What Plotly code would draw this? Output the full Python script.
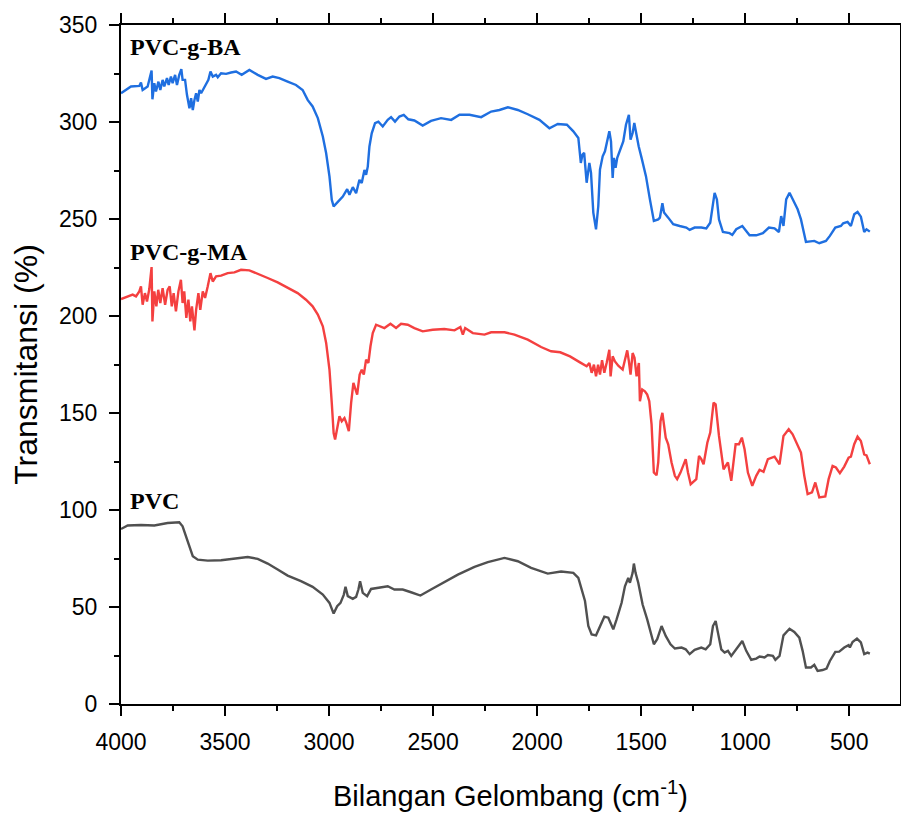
import plotly.graph_objects as go

# FTIR spectra: wavenumber (cm-1) and transmittance (%) for each sample

wn_ba = [4000, 3952, 3912, 3904, 3896, 3872, 3853, 3849, 3840, 3832, 3820, 3811, 3800, 3792,
         3779, 3771, 3760, 3752, 3740, 3731, 3720, 3710, 3704, 3692, 3683, 3671, 3663, 3655,
         3647, 3639, 3631, 3623, 3615, 3599, 3580, 3570, 3559, 3543, 3535, 3519, 3495, 3471,
         3447, 3420, 3383, 3343, 3303, 3271, 3239, 3199, 3159, 3127, 3103, 3079, 3054, 3030,
         3014, 2998, 2987, 2978, 2958, 2934, 2913, 2902, 2886, 2870, 2854, 2843, 2830, 2822,
         2814, 2806, 2795, 2779, 2763, 2742, 2718, 2702, 2683, 2662, 2641, 2619, 2590, 2550,
         2510, 2462, 2413, 2373, 2325, 2269, 2221, 2181, 2141, 2093, 2045, 1989, 1941, 1901,
         1857, 1826, 1802, 1790, 1782, 1774, 1762, 1749, 1741, 1730, 1717, 1706, 1698, 1685,
         1674, 1653, 1645, 1637, 1631, 1623, 1615, 1602, 1586, 1573, 1559, 1551, 1541, 1533,
         1525, 1512, 1498, 1477, 1458, 1439, 1418, 1410, 1398, 1390, 1370, 1346, 1315, 1283,
         1267, 1243, 1211, 1187, 1168, 1158, 1147, 1136, 1126, 1107, 1075, 1062, 1043, 1014,
         1003, 979, 947, 915, 886, 859, 838, 827, 816, 803, 787, 772, 748, 732, 708, 668,
         644, 612, 593, 567, 540, 529, 508, 492, 476, 460, 444, 428, 417, 401]
t_ba = [314.8, 318.3, 318.6, 320.3, 316.5, 318.3, 326.5, 311.7, 320.0, 315.7, 320.8, 316.5, 321.7, 318.3,
        322.6, 319.1, 323.4, 320.0, 324.3, 319.1, 324.3, 327.2, 321.7, 321.7, 314.0, 307.1, 312.3, 306.2,
        311.4, 314.8, 310.5, 316.5, 314.8, 318.3, 321.7, 326.0, 323.4, 324.3, 323.1, 325.1, 324.8, 325.5,
        326.0, 324.3, 326.8, 324.3, 322.2, 323.4, 322.6, 320.8, 319.1, 316.5, 311.4, 308.0, 302.0, 292.5,
        283.9, 271.9, 259.9, 256.5, 259.0, 261.6, 265.4, 262.5, 266.4, 263.3, 270.2, 268.5, 275.3, 272.8,
        277.0, 287.4, 294.2, 299.4, 300.2, 297.7, 301.1, 302.5, 300.2, 302.8, 303.7, 301.4, 300.8, 298.2,
        300.6, 302.0, 301.1, 303.7, 303.7, 302.5, 305.4, 306.2, 307.6, 306.2, 304.0, 301.1, 296.8, 299.0,
        298.6, 295.2, 291.8, 278.9, 283.2, 284.1, 268.7, 278.9, 273.8, 253.3, 244.7, 256.7, 275.5, 282.3,
        284.9, 295.2, 290.0, 271.2, 281.5, 276.4, 281.5, 285.8, 290.0, 298.6, 303.7, 290.9, 294.3, 299.5,
        294.3, 287.5, 281.5, 272.1, 260.1, 249.0, 249.8, 250.7, 258.1, 253.3, 250.7, 247.3, 246.4, 245.6,
        244.4, 245.6, 245.6, 245.1, 248.1, 256.7, 263.5, 260.1, 249.8, 243.3, 242.7, 241.8, 244.7, 246.4,
        244.7, 241.6, 241.6, 242.7, 245.6, 245.2, 243.3, 251.5, 246.4, 260.1, 263.5, 260.1, 255.0, 249.8, 238.2, 238.7,
        237.5, 238.7, 241.3, 245.6, 246.4, 247.8, 248.5, 246.4, 252.4, 253.6, 251.2, 243.3, 244.7, 243.5]

wn_ma = [4000, 3968, 3944, 3928, 3912, 3904, 3896, 3885, 3875, 3864, 3853, 3849, 3840, 3830,
         3821, 3811, 3800, 3788, 3776, 3766, 3756, 3747, 3736, 3724, 3712, 3704, 3696, 3686,
         3676, 3667, 3659, 3647, 3639, 3628, 3619, 3607, 3596, 3583, 3570, 3559, 3543, 3519,
         3487, 3455, 3423, 3383, 3343, 3295, 3247, 3199, 3151, 3111, 3079, 3054, 3030, 3014,
         2998, 2987, 2978, 2971, 2961, 2950, 2939, 2926, 2917, 2905, 2894, 2883, 2865, 2853,
         2843, 2833, 2822, 2811, 2801, 2790, 2774, 2750, 2734, 2705, 2678, 2654, 2622, 2590,
         2550, 2502, 2446, 2397, 2369, 2357, 2346, 2309, 2253, 2221, 2157, 2109, 2045, 1981,
         1933, 1889, 1842, 1794, 1762, 1749, 1738, 1727, 1717, 1707, 1698, 1688, 1677, 1666,
         1653, 1647, 1637, 1626, 1610, 1589, 1576, 1567, 1559, 1551, 1541, 1532, 1522, 1511,
         1506, 1495, 1482, 1471, 1461, 1455, 1450, 1439, 1426, 1418, 1407, 1398, 1382, 1370,
         1354, 1338, 1327, 1311, 1286, 1275, 1262, 1235, 1222, 1211, 1200, 1182, 1168, 1152,
         1142, 1126, 1104, 1083, 1067, 1046, 1030, 1016, 1003, 987, 966, 947, 931, 912, 891,
         859, 835, 816, 791, 772, 752, 732, 716, 700, 679, 663, 644, 615, 599, 580, 564, 545,
         524, 503, 492, 476, 460, 444, 428, 417, 401]
t_ma = [208.7, 210.1, 211.0, 210.1, 212.7, 215.3, 205.8, 211.8, 207.5, 213.9, 225.2, 197.2, 212.7, 205.0,
        213.5, 206.7, 214.4, 205.8, 213.5, 215.3, 205.0, 211.8, 202.4, 212.7, 218.7, 206.7, 212.7, 199.0,
        208.4, 197.2, 205.0, 192.6, 203.2, 211.8, 203.2, 212.7, 209.3, 215.3, 222.1, 217.8, 220.4, 220.8,
        222.1, 222.5, 223.8, 223.5, 221.8, 219.6, 217.3, 214.4, 211.8, 208.4, 205.0, 200.7, 194.7, 186.1,
        172.3, 155.2, 139.7, 136.3, 143.2, 148.3, 145.7, 147.4, 144.9, 140.6, 155.2, 165.5, 159.5, 169.8,
        172.3, 169.8, 177.5, 175.8, 184.4, 191.2, 195.5, 194.7, 193.8, 196.0, 193.8, 196.0, 195.5, 193.8,
        192.1, 192.9, 193.3, 192.6, 194.3, 190.4, 193.8, 191.2, 190.4, 191.6, 191.6, 190.4, 187.8, 184.0,
        181.8, 181.3, 179.2, 176.1, 174.1, 175.8, 170.7, 174.9, 168.9, 174.9, 169.8, 177.2, 170.7, 175.8,
        182.6, 168.9, 179.2, 176.6, 174.4, 172.4, 179.2, 182.3, 176.6, 169.8, 180.9, 178.4, 168.9, 175.8,
        156.1, 162.1, 161.2, 159.5, 156.1, 146.7, 144.1, 119.3, 117.9, 124.5, 145.8, 150.1, 137.3, 133.9,
        124.5, 117.6, 115.9, 119.3, 126.2, 119.3, 113.3, 115.9, 127.9, 126.2, 123.6, 134.7, 139.9, 155.3,
        154.4, 138.2, 121.0, 124.5, 115.0, 133.9, 133.9, 137.3, 131.3, 119.3, 112.5, 117.6, 120.7, 119.7, 126.2,
        127.5, 123.6, 138.2, 141.6, 139.0, 134.4, 129.6, 117.6, 108.2, 109.1, 114.2, 106.5, 107.0, 115.9, 122.7, 121.9, 119.0,
        122.4, 127.0, 127.5, 133.9, 137.8, 135.6, 128.7, 128.2, 123.6]

wn_pvc = [4000, 3968, 3904, 3840, 3776, 3720, 3704, 3688, 3671, 3655, 3631, 3583, 3519, 3455,
          3391, 3343, 3295, 3247, 3199, 3135, 3079, 3030, 2998, 2978, 2961, 2945, 2929, 2921,
          2910, 2886, 2870, 2859, 2851, 2838, 2817, 2798, 2766, 2718, 2686, 2646, 2606, 2561,
          2510, 2446, 2381, 2301, 2237, 2157, 2093, 2029, 1949, 1885, 1826, 1802, 1786, 1770,
          1754, 1738, 1717, 1698, 1677, 1658, 1634, 1618, 1594, 1578, 1562, 1554, 1541, 1535,
          1527, 1514, 1493, 1471, 1455, 1439, 1423, 1402, 1382, 1359, 1338, 1306, 1286, 1267,
          1243, 1211, 1190, 1168, 1155, 1142, 1131, 1115, 1099, 1083, 1067, 1043, 1014, 995,
          971, 947, 931, 907, 891, 867, 855, 835, 816, 787, 764, 740, 724, 708, 684, 668, 652,
          628, 609, 593, 567, 548, 524, 503, 497, 484, 463, 444, 428, 412, 401]
t_pvc = [90.2, 92.0, 92.3, 92.0, 93.3, 93.7, 91.6, 86.5, 80.5, 76.2, 74.4, 73.9, 74.1, 74.8,
         75.8, 74.8, 72.4, 69.3, 66.2, 63.3, 60.4, 56.4, 52.1, 46.6, 50.4, 52.1, 56.4, 60.4,
         55.6, 54.2, 55.2, 59.0, 63.3, 57.3, 55.6, 59.3, 59.9, 60.7, 59.0, 59.0, 57.6, 55.9,
         59.0, 62.8, 66.7, 70.7, 73.1, 75.3, 73.6, 70.2, 67.2, 68.3, 67.6, 65.0, 59.0, 53.1,
         40.2, 35.9, 35.4, 40.2, 45.0, 44.5, 38.5, 43.6, 52.2, 60.7, 65.0, 62.5, 67.6, 72.4,
         67.6, 62.5, 51.3, 43.6, 37.6, 30.8, 33.4, 40.2, 35.1, 30.8, 28.6, 29.1, 28.2, 25.7,
         27.9, 29.1, 28.2, 30.8, 40.2, 42.8, 36.8, 28.2, 26.5, 27.4, 24.8, 28.2, 32.5, 27.4,
         22.8, 23.4, 24.5, 24.0, 25.2, 24.8, 22.8, 24.8, 35.4, 38.8, 37.1, 34.2, 27.4, 18.8, 18.8, 20.2, 17.1,
         17.5, 18.3, 22.2, 26.9, 27.0, 29.1, 30.3, 29.1, 32.0, 33.7, 31.7, 25.7, 26.5, 26.0]

series = [
    ("PVC-g-BA", wn_ba, t_ba, "rgb(31,111,224)", 338.5),
    ("PVC-g-MA", wn_ma, t_ma, "rgb(244,64,64)", 233.0),
    ("PVC", wn_pvc, t_pvc, "rgb(80,80,80)", 104.5),
]

fig = go.Figure()
for name, x, y, color, label_y in series:
    fig.add_trace(go.Scatter(x=x, y=y, mode="lines", name=name,
                             line=dict(color=color, width=2.4), showlegend=False))
    fig.add_annotation(x=3966, y=label_y, xref="x", yref="y", text="<b>%s</b>" % name,
                       showarrow=False, xanchor="left", yanchor="middle",
                       font=dict(family="Liberation Serif", size=24, color="black"))

axis_common = dict(
    showline=True, linecolor="black", linewidth=2,
    ticks="outside", ticklen=10, tickwidth=2, tickcolor="black",
    showgrid=False, zeroline=False, automargin=False,
    tickfont=dict(family="Liberation Sans", size=23, color="black"),
)

fig.update_xaxes(
    range=[4000, 256], tickvals=[4000, 3500, 3000, 2500, 2000, 1500, 1000, 500],
    mirror="ticks",
    minor=dict(ticks="outside", ticklen=5, tickwidth=2, tickcolor="black", dtick=250, tick0=0),
    ticklabelstandoff=6,
    title=dict(text="Bilangan Gelombang (cm<sup>-1</sup>)", standoff=32,
               font=dict(family="Liberation Sans", size=29, color="black")),
    **axis_common,
)
fig.update_yaxes(
    range=[0, 350], tickvals=[0, 50, 100, 150, 200, 250, 300, 350],
    mirror=True,
    minor=dict(ticks="outside", ticklen=5, tickwidth=2, tickcolor="black", dtick=25, tick0=0),
    ticklabelstandoff=7,
    title=dict(text="Transmitansi (%)", standoff=12,
               font=dict(family="Liberation Sans", size=32, color="black")),
    **axis_common,
)

fig.update_layout(
    width=901, height=815,
    margin=dict(l=121, r=1, t=25, b=111),
    paper_bgcolor="white", plot_bgcolor="white",
)

fig.write_html("out.html")
